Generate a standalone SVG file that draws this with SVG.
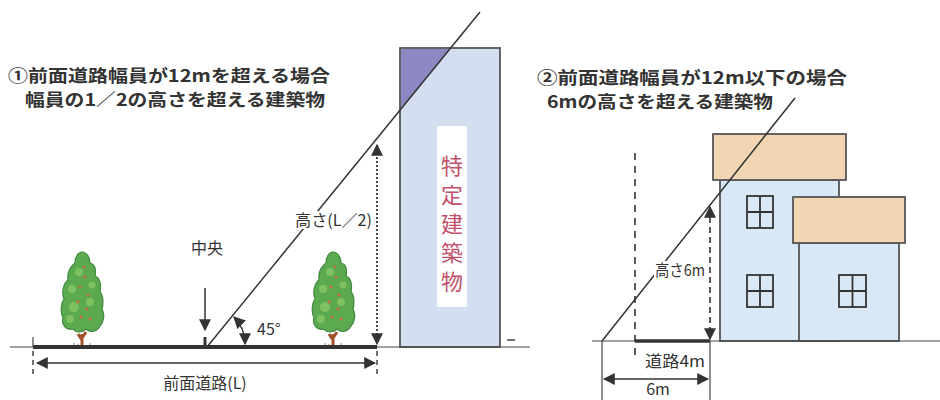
<svg xmlns="http://www.w3.org/2000/svg" width="940" height="400" viewBox="0 0 940 400">
<style>
.t{font-family:"Noto Sans CJK JP","Liberation Sans",sans-serif;fill:#333}
.title{font-size:17px;font-weight:bold}
.lbl{font-size:16px}
.ln{stroke:#333;stroke-width:1.5;fill:none}
.thin{stroke:#444;stroke-width:1.2;fill:none}
.wall{stroke:#555;stroke-width:1.8}
.win{fill:none;stroke:#333;stroke-width:1.8}
</style>
<defs>
<marker id="ah" viewBox="0 0 10 10" refX="9" refY="5" markerWidth="12" markerHeight="12" markerUnits="userSpaceOnUse" orient="auto-start-reverse"><path d="M0,0 L10,5 L0,10 Z" fill="#333"/></marker>
<marker id="ahb" viewBox="0 0 10 10" refX="9" refY="5" markerWidth="12" markerHeight="12" markerUnits="userSpaceOnUse" orient="auto-start-reverse"><path d="M0,0 L10,5 L0,10 Z" fill="#333"/></marker>
<g id="treeShape">
<path d="M0,25 L0,12 M0,18 L-4,12 M0,16 L4,10" stroke="#a0522d" stroke-width="3" fill="none" transform="translate(0,-25)"/>
<path d="M0,-95 C5,-95 8,-89 8,-84 C14,-83 14,-75 13,-71 C19,-69 19,-60 18,-55 C22,-51 21,-42 20,-38 C23,-33 22,-25 18,-21 C15,-15 8,-14 4,-18 C0,-14 -6,-14 -9,-18 C-16,-16 -21,-23 -19,-29 C-22,-35 -21,-44 -18,-48 C-21,-55 -18,-64 -14,-67 C-15,-75 -11,-81 -7,-84 C-7,-90 -4,-95 0,-95 Z" fill="#5caa50" stroke="#3f8a40" stroke-width="1.2"/>
<g fill="#86c766" opacity="0.8">
<circle cx="-8" cy="-40" r="5"/><circle cx="-10" cy="-58" r="4"/><circle cx="8" cy="-45" r="4"/><circle cx="-3" cy="-75" r="4"/><circle cx="10" cy="-62" r="3.5"/><circle cx="-12" cy="-28" r="4"/>
</g>
<g fill="#c0703a">
<circle cx="3" cy="-70" r="1.6"/><circle cx="-2" cy="-60" r="1.6"/><circle cx="6" cy="-52" r="1.6"/><circle cx="-4" cy="-45" r="1.6"/><circle cx="5" cy="-38" r="1.6"/><circle cx="-1" cy="-30" r="1.6"/><circle cx="8" cy="-28" r="1.6"/><circle cx="2" cy="-80" r="1.4"/>
</g>
<path d="M-8,0 L-8,-4 M-4,0 L-4,-3 M8,0 L8,-4" stroke="#666" stroke-width="0.8"/>
</g>
</defs>
<rect width="940" height="400" fill="#fff"/>

<g id="title1">
<text class="t title" x="8" y="82" textLength="322" lengthAdjust="spacingAndGlyphs">①前面道路幅員が12mを超える場合</text>
<text class="t title" x="25" y="106" textLength="300" lengthAdjust="spacingAndGlyphs">幅員の1／2の高さを超える建築物</text>
</g>
<g id="title2">
<text class="t title" x="537" y="84" textLength="310" lengthAdjust="spacingAndGlyphs">②前面道路幅員が12m以下の場合</text>
<text class="t title" x="547" y="108" textLength="226" lengthAdjust="spacingAndGlyphs">6mの高さを超える建築物</text>
</g>

<g id="building">
<rect x="400" y="48" width="100" height="299" fill="#d3dff1" class="wall"/>
<polygon points="401,49 450,49 401,109" fill="#8b88c3"/>
<rect x="437" y="126" width="30" height="181" fill="#fff"/>
<text x="452" y="0" font-family="Noto Sans CJK JP,sans-serif" font-size="22" fill="#c2506a" text-anchor="middle"><tspan x="452" y="174">特</tspan><tspan x="452" y="203">定</tspan><tspan x="452" y="232">建</tspan><tspan x="452" y="261">築</tspan><tspan x="452" y="290">物</tspan></text>
<line x1="507" y1="340" x2="515" y2="340" stroke="#444" stroke-width="1.5"/>
</g>

<g id="tree1"><use href="#treeShape" transform="translate(82,347)"/></g>
<g id="tree2"><use href="#treeShape" transform="translate(333,347)"/></g>

<g id="house1">
<rect x="720" y="180" width="119" height="161" fill="#d8e8f6" class="wall"/>
<rect x="713" y="134" width="133" height="46" fill="#f2d6b3" class="wall"/>
<rect x="747" y="196" width="26" height="32" class="win"/>
<path d="M760,196 V228 M747,212 H773" class="win"/>
<rect x="747" y="275" width="26" height="32" class="win"/>
<path d="M760,275 V307 M747,291 H773" class="win"/>
</g>
<g id="house2">
<rect x="799" y="243" width="100" height="98" fill="#d8e8f6" class="wall"/>
<rect x="793" y="197" width="112" height="46" fill="#f2d6b3" class="wall"/>
<rect x="839" y="275" width="27" height="32" class="win"/>
<path d="M852.5,275 V307 M839,291 H866" class="win"/>
</g>

<g id="connectors">
<!-- left diagram -->
<line x1="10" y1="347" x2="530" y2="347" class="thin"/>
<line x1="33" y1="347" x2="377" y2="347" stroke="#333" stroke-width="4"/>
<line x1="33" y1="337" x2="33" y2="347" class="thin"/>
<line x1="33" y1="351" x2="33" y2="376" stroke="#444" stroke-width="1.5" stroke-dasharray="5,4"/>
<line x1="377" y1="351" x2="377" y2="376" stroke="#444" stroke-width="1.5" stroke-dasharray="5,4"/>
<line x1="37" y1="363" x2="375" y2="363" class="ln" stroke-width="2" marker-start="url(#ahb)" marker-end="url(#ahb)"/>
<line x1="205" y1="288" x2="205" y2="330" class="ln" marker-end="url(#ahb)"/>
<line x1="205" y1="337" x2="205" y2="347" stroke="#333" stroke-width="3"/>
<line x1="207" y1="347" x2="480" y2="12" class="ln"/>
<path d="M234,317 Q245,328 245,344" class="ln" stroke-width="1.8" marker-start="url(#ah)" marker-end="url(#ah)"/>
<line x1="377" y1="145" x2="377" y2="344" stroke="#333" stroke-width="1.8" stroke-dasharray="2,2" marker-start="url(#ahb)" marker-end="url(#ahb)"/>
<!-- right diagram -->
<line x1="592" y1="341" x2="940" y2="341" class="thin"/>
<line x1="635" y1="341" x2="710" y2="341" stroke="#333" stroke-width="3.5"/>
<line x1="635" y1="153" x2="635" y2="355" stroke="#333" stroke-width="1.6" stroke-dasharray="7,6"/>
<line x1="602" y1="341" x2="795" y2="98" class="ln"/>
<line x1="710" y1="207" x2="710" y2="339" stroke="#333" stroke-width="1.6" stroke-dasharray="6,4" marker-start="url(#ahb)" marker-end="url(#ahb)"/>
<line x1="602" y1="341" x2="602" y2="400" class="thin"/>
<line x1="710" y1="341" x2="710" y2="400" class="thin"/>
<line x1="604" y1="379" x2="708" y2="379" class="ln" stroke-width="2" marker-start="url(#ahb)" marker-end="url(#ahb)"/>
</g>

<g id="labels">
<text class="t lbl" x="207" y="254" font-size="17" text-anchor="middle">中央</text>
<text class="t lbl" x="257" y="335" font-size="17">45°</text>
<rect x="294" y="211" width="79" height="18" fill="#fff"/>
<text class="t lbl" x="295" y="226" textLength="77" lengthAdjust="spacingAndGlyphs">高さ(L／2)</text>
<text class="t lbl" x="205" y="389" text-anchor="middle">前面道路(L)</text>
<rect x="654" y="261" width="52" height="18" fill="#fff"/>
<text class="t lbl" x="655" y="276" textLength="50" lengthAdjust="spacingAndGlyphs">高さ6m</text>
<text class="t lbl" x="645" y="367" textLength="60" lengthAdjust="spacingAndGlyphs">道路4m</text>
<text class="t lbl" x="658" y="395" font-size="14" text-anchor="middle">6m</text>
</g>
</svg>
